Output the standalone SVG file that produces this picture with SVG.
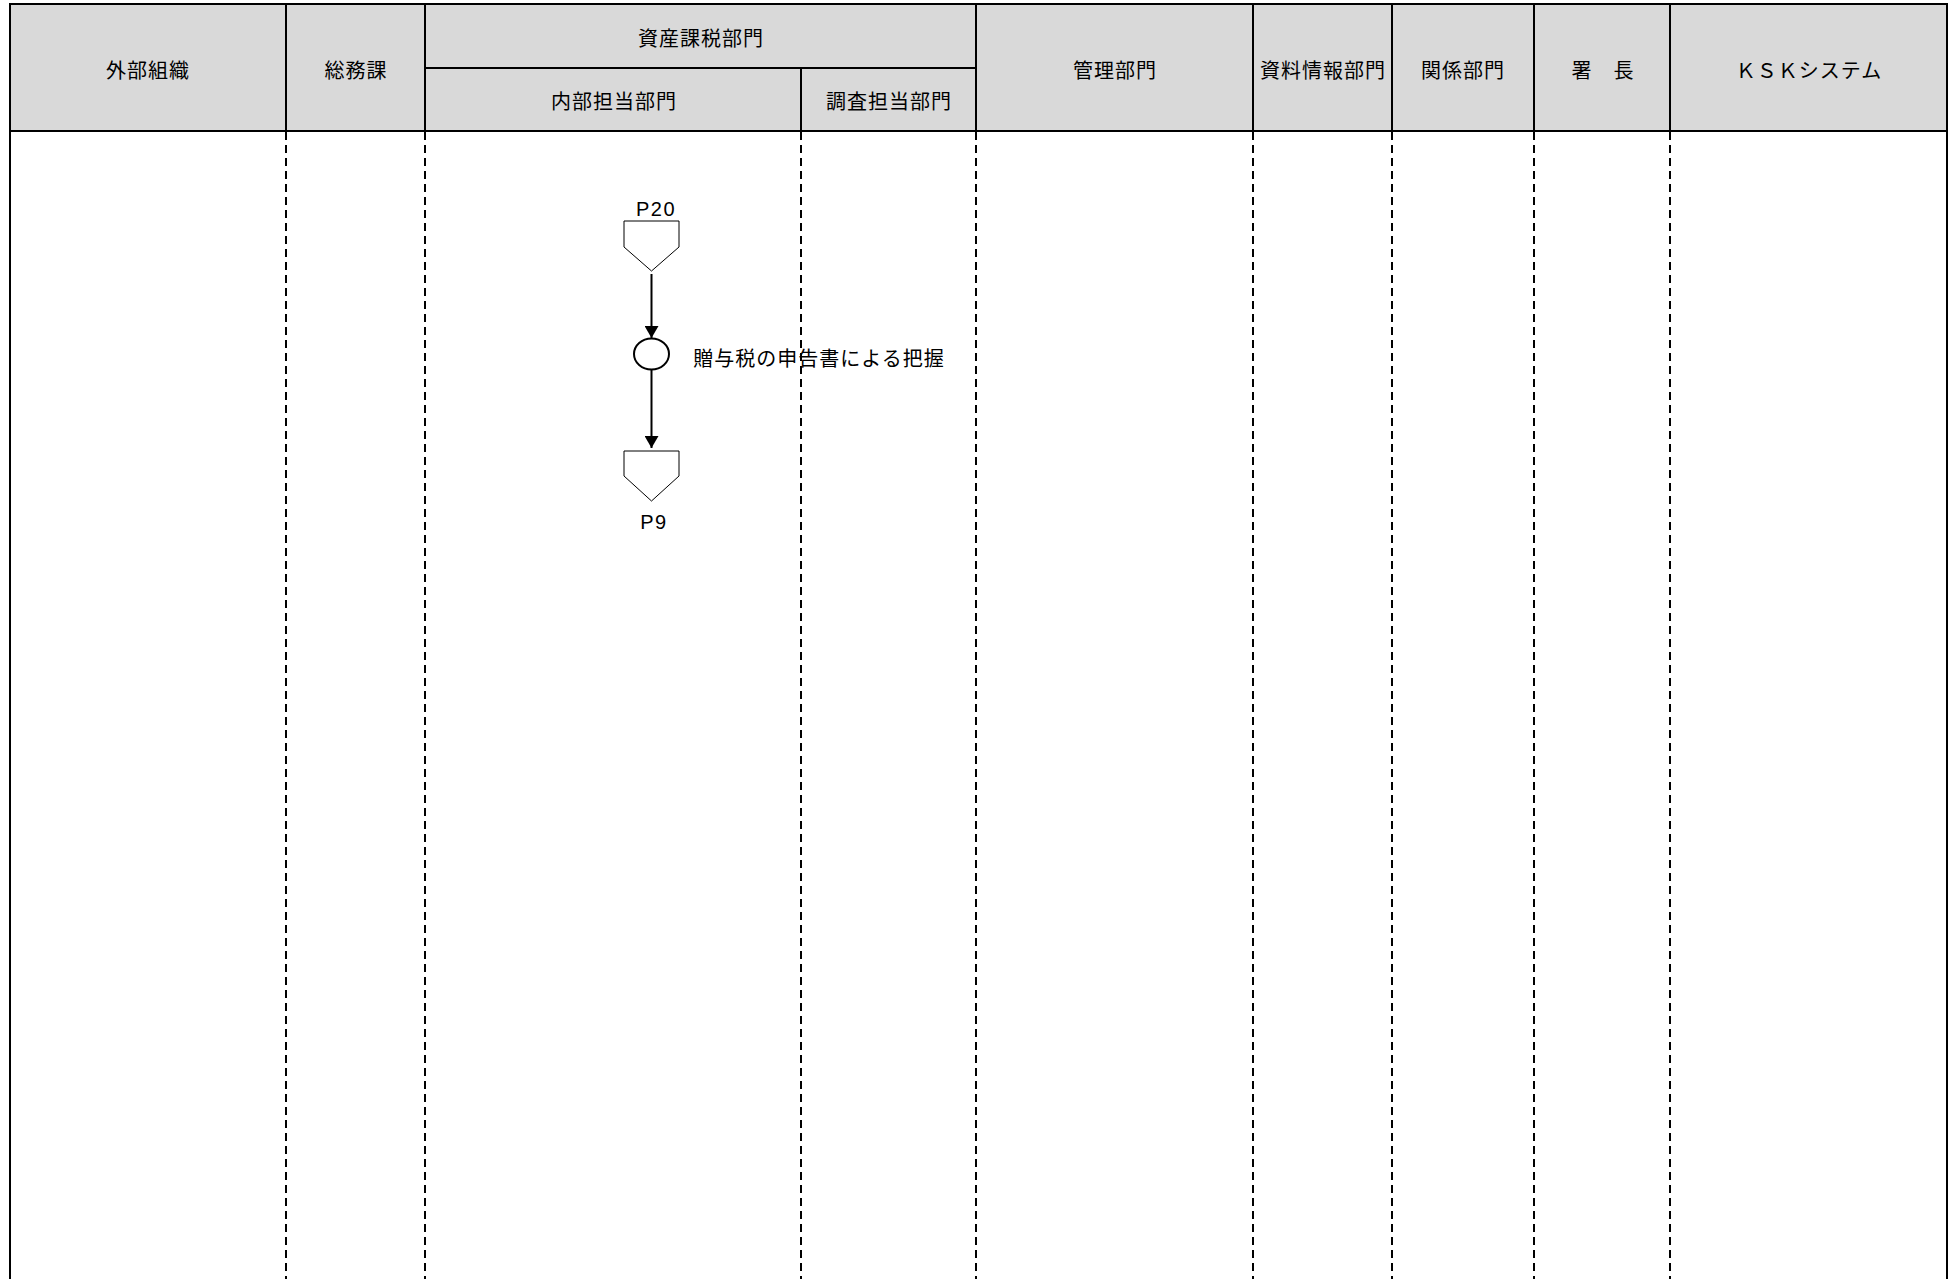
<svg xmlns="http://www.w3.org/2000/svg" width="1959" height="1279" viewBox="0 0 1959 1279">
<style>
.hd{fill:#d9d9d9;stroke:none}
.sol{stroke:#000;stroke-width:2;fill:none}
.dash{stroke:#000;stroke-width:2;stroke-dasharray:8,5;fill:none}
.t{font-family:"Noto Sans CJK JP","Noto Sans",sans-serif;font-size:20px;letter-spacing:1px;fill:#000;text-anchor:middle;dominant-baseline:central}
.lbl{font-family:"Liberation Sans",Arial,sans-serif;font-size:20px;letter-spacing:1.5px;fill:#000;text-anchor:middle;dominant-baseline:central}
.off{fill:#fff;stroke:#000;stroke-width:1}
.conn{stroke:#000;stroke-width:2;fill:none}
</style>
<defs>
<marker id="arr" viewBox="0 0 12 14" refX="12" refY="7" markerWidth="12" markerHeight="14" markerUnits="userSpaceOnUse" orient="auto">
<path d="M0,0 L12,7 L0,14 Z" fill="#000"/>
</marker>
</defs>
<rect width="1959" height="1279" fill="#fff"/>
<g id="header">
<rect class="hd" x="10" y="4" width="1937" height="127"/>
<line class="sol" x1="9" y1="4" x2="1948" y2="4"/>
<line class="sol" x1="9" y1="131" x2="1948" y2="131"/>
<line class="sol" x1="425" y1="68" x2="976" y2="68"/>
<line class="sol" x1="10" y1="4" x2="10" y2="1279"/>
<line class="sol" x1="1947" y1="4" x2="1947" y2="1279"/>
<line class="sol" x1="286" y1="4" x2="286" y2="131"/>
<line class="sol" x1="425" y1="4" x2="425" y2="131"/>
<line class="sol" x1="801" y1="68" x2="801" y2="131"/>
<line class="sol" x1="976" y1="4" x2="976" y2="131"/>
<line class="sol" x1="1253" y1="4" x2="1253" y2="131"/>
<line class="sol" x1="1392" y1="4" x2="1392" y2="131"/>
<line class="sol" x1="1534" y1="4" x2="1534" y2="131"/>
<line class="sol" x1="1670" y1="4" x2="1670" y2="131"/>
</g>
<g id="lane-dividers">
<line class="dash" x1="286" y1="132" x2="286" y2="1279"/>
<line class="dash" x1="425" y1="132" x2="425" y2="1279"/>
<line class="dash" x1="801" y1="132" x2="801" y2="1279"/>
<line class="dash" x1="976" y1="132" x2="976" y2="1279"/>
<line class="dash" x1="1253" y1="132" x2="1253" y2="1279"/>
<line class="dash" x1="1392" y1="132" x2="1392" y2="1279"/>
<line class="dash" x1="1534" y1="132" x2="1534" y2="1279"/>
<line class="dash" x1="1670" y1="132" x2="1670" y2="1279"/>
</g>
<g id="lane-gaibu"><text class="t" x="148" y="69">外部組織</text></g>
<g id="lane-somuka"><text class="t" x="356" y="69">総務課</text></g>
<g id="lane-shisan"><text class="t" x="701" y="37">資産課税部門</text></g>
<g id="lane-naibu"><text class="t" x="614" y="100">内部担当部門</text></g>
<g id="lane-chosa"><text class="t" x="889" y="100">調査担当部門</text></g>
<g id="lane-kanri"><text class="t" x="1115" y="69">管理部門</text></g>
<g id="lane-shiryo"><text class="t" x="1323" y="69">資料情報部門</text></g>
<g id="lane-kankei"><text class="t" x="1463" y="69">関係部門</text></g>
<g id="lane-shocho"><text class="t" x="1603" y="69">署　長</text></g>
<g id="lane-ksk"><text class="t" x="1809" y="69">ＫＳＫシステム</text></g>
<g id="connectors">
<line class="conn" x1="651.5" y1="274" x2="651.5" y2="338" marker-end="url(#arr)"/>
<line class="conn" x1="651.5" y1="370" x2="651.5" y2="448" marker-end="url(#arr)"/>
</g>
<g id="node-p20">
<polygon class="off" points="624,221 679,221 679,247 651.5,271 624,247"/>
<text class="lbl" x="656" y="209">P20</text>
</g>
<g id="node-zoyozei">
<ellipse cx="651.5" cy="354" rx="17.5" ry="15.5" fill="#fff" stroke="#000" stroke-width="2"/>
<text class="t" x="819" y="357">贈与税の申告書による把握</text>
</g>
<g id="node-p9">
<polygon class="off" points="624,451 679,451 679,476 651.5,501 624,476"/>
<text class="lbl" x="654" y="522">P9</text>
</g>
</svg>
